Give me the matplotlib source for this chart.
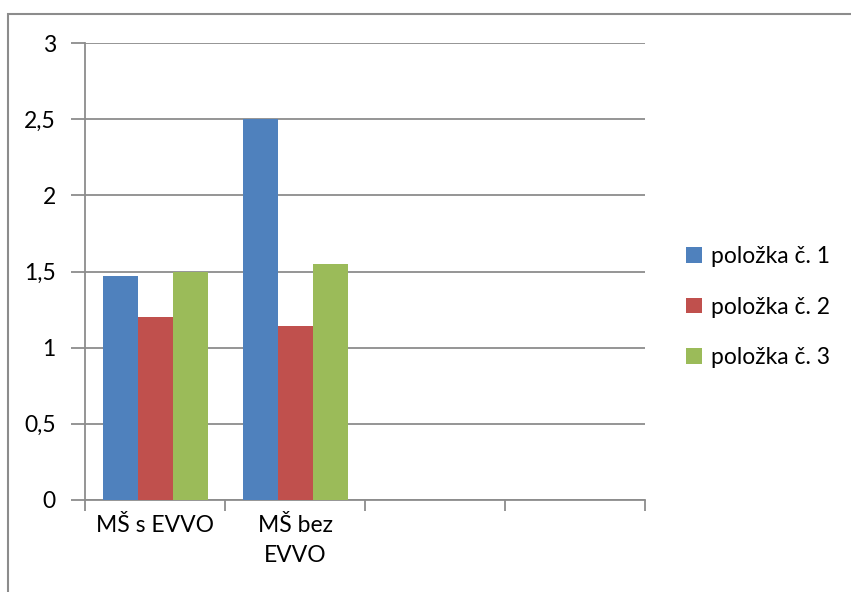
import matplotlib
matplotlib.use("Agg")
import matplotlib.pyplot as plt
from matplotlib.patches import Rectangle
import numpy as np

plt.rcParams['font.family'] = ['Lato', 'DejaVu Sans']

categories = ["MŠ s EVVO", "MŠ bez\nEVVO", "", ""]
series_names = ["položka č. 1", "položka č. 2", "položka č. 3"]
series_values = [
    [1.47, 2.5, None, None],
    [1.20, 1.14, None, None],
    [1.50, 1.55, None, None],
]
colors = ["#4F81BD", "#C0504D", "#9BBB59"]
y_ticks = [0, 0.5, 1, 1.5, 2, 2.5, 3]
y_tick_labels = ["0", "0,5", "1", "1,5", "2", "2,5", "3"]

W, H = 851, 592
FS = 16.5
fig = plt.figure(figsize=(W / 100, H / 100), dpi=100)

# outer chart frame (only top and left edges fall inside the canvas)
fig.patches.append(Rectangle((8 / W, -0.5), 2, 1.5 - 14 / H, transform=fig.transFigure,
                             fill=False, edgecolor="#8c8c8c", linewidth=1.5, zorder=0))

ax = fig.add_axes([85 / W, (H - 500) / H, 560 / W, 457 / H])

x = np.arange(len(categories))
bw = 0.25
handles = []
for i, (name, vals, c) in enumerate(zip(series_names, series_values, colors)):
    xs = [xi + (i - 1) * bw for xi, v in zip(x, vals) if v is not None]
    vs = [v for v in vals if v is not None]
    b = ax.bar(xs, vs, width=bw, color=c, label=name, zorder=3)
    handles.append(b)

ax.set_xlim(-0.5, len(categories) - 0.5)
ax.set_ylim(0, 3)
ax.set_yticks(y_ticks)
ax.set_yticklabels(y_tick_labels)
ax.yaxis.grid(True, color="#8c8c8c", linewidth=1.3, zorder=0)
ax.set_axisbelow(True)

# category boundaries as major ticks, labels on minor ticks at centres
ax.set_xticks(np.arange(-0.5, len(categories) + 0.5, 1))
ax.set_xticklabels([])
ax.set_xticks(x, minor=True)
ax.set_xticklabels(categories, minor=True, fontsize=FS, linespacing=1.5, va="top")
ax.tick_params(axis="x", which="minor", length=0, pad=11)
ax.tick_params(axis="x", which="major", length=8, width=1.3, color="#8c8c8c", direction="out")
ax.tick_params(axis="y", length=10, width=1.3, color="#8c8c8c", labelsize=FS, pad=11)

for s in ["top", "right"]:
    ax.spines[s].set_visible(False)
for s in ["left", "bottom"]:
    ax.spines[s].set_color("#8c8c8c")
    ax.spines[s].set_linewidth(1.3)

leg = ax.legend(handles=handles, loc="center left", bbox_to_anchor=(686 / W, (H - 307) / H),
                bbox_transform=fig.transFigure, frameon=False, fontsize=FS,
                handlelength=0.68, handleheight=0.68, handletextpad=0.4, labelspacing=1.3,
                borderpad=0, borderaxespad=0)

fig.savefig("out.png", dpi=100)
